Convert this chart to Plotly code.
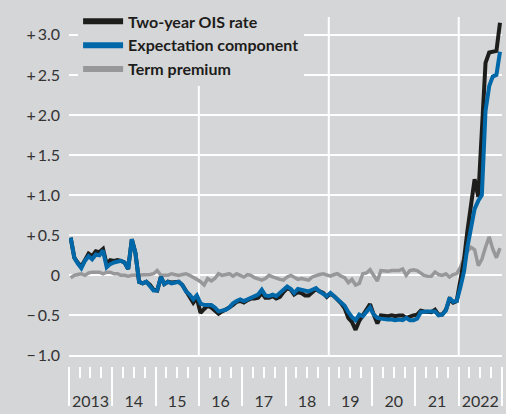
import plotly.graph_objects as go

# Monthly observations, Jan 2013 .. Dec 2022 (mid-month)
months = [f"{2013 + i // 12}-{i % 12 + 1:02d}-15" for i in range(120)]

ois_rate = [
    0.47, 0.22, 0.16, 0.11, 0.19, 0.27, 0.24, 0.30, 0.29, 0.33, 0.14, 0.19,
    0.18, 0.19, 0.18, 0.16, 0.08, 0.45, 0.28, -0.08, -0.10, -0.08, -0.12, -0.18,
    -0.19, -0.02, -0.11, -0.08, -0.09, -0.09, -0.08, -0.12, -0.19, -0.25, -0.34, -0.28,
    -0.47, -0.42, -0.38, -0.40, -0.44, -0.48, -0.45, -0.43, -0.40, -0.37, -0.33, -0.32,
    -0.34, -0.31, -0.29, -0.29, -0.28, -0.22, -0.28, -0.28, -0.26, -0.29, -0.27, -0.21,
    -0.16, -0.18, -0.24, -0.21, -0.22, -0.25, -0.25, -0.21, -0.17, -0.20, -0.22, -0.27,
    -0.23, -0.26, -0.30, -0.35, -0.41, -0.53, -0.58, -0.68, -0.57, -0.50, -0.43, -0.36,
    -0.49, -0.60, -0.50, -0.51, -0.51, -0.50, -0.51, -0.50, -0.50, -0.53, -0.51, -0.50,
    -0.49, -0.44, -0.45, -0.46, -0.46, -0.43, -0.49, -0.49, -0.43, -0.30, -0.34, -0.32,
    -0.08, 0.20, 0.55, 0.84, 1.20, 0.98, 1.75, 2.65, 2.78, 2.79, 2.80, 3.15,
]

expectation = [
    0.47, 0.22, 0.15, 0.09, 0.18, 0.24, 0.20, 0.26, 0.25, 0.31, 0.10, 0.14,
    0.16, 0.17, 0.18, 0.16, 0.08, 0.45, 0.28, -0.08, -0.10, -0.08, -0.13, -0.19,
    -0.19, -0.02, -0.11, -0.08, -0.10, -0.09, -0.08, -0.12, -0.20, -0.24, -0.30, -0.25,
    -0.35, -0.37, -0.37, -0.37, -0.40, -0.45, -0.44, -0.43, -0.40, -0.35, -0.32, -0.30,
    -0.32, -0.30, -0.27, -0.26, -0.24, -0.18, -0.25, -0.26, -0.24, -0.26, -0.22, -0.18,
    -0.14, -0.17, -0.22, -0.17, -0.18, -0.20, -0.20, -0.18, -0.16, -0.20, -0.23, -0.26,
    -0.22, -0.26, -0.31, -0.34, -0.38, -0.46, -0.52, -0.56, -0.49, -0.51, -0.45, -0.40,
    -0.49, -0.53, -0.54, -0.55, -0.55, -0.55, -0.56, -0.55, -0.56, -0.53, -0.56, -0.56,
    -0.54, -0.46, -0.45, -0.45, -0.45, -0.45, -0.50, -0.49, -0.44, -0.28, -0.33, -0.32,
    -0.15, 0.05, 0.35, 0.59, 0.83, 0.93, 1.00, 2.05, 2.36, 2.48, 2.50, 2.79,
]

term_premium = [
    -0.03, 0.00, 0.01, 0.02, 0.00, 0.03, 0.04, 0.04, 0.04, 0.02, 0.04, 0.04,
    0.02, 0.02, 0.00, 0.00, -0.01, 0.00, 0.00, 0.00, 0.00, 0.00, 0.01, 0.02,
    0.06, 0.00, 0.00, 0.00, 0.02, 0.01, 0.00, 0.01, 0.02, 0.00, -0.02, -0.05,
    -0.08, -0.12, -0.04, -0.07, -0.04, 0.02, 0.00, 0.01, 0.02, -0.01, 0.02, 0.00,
    -0.02, 0.01, 0.00, -0.03, -0.05, -0.06, -0.04, 0.00, -0.02, -0.04, -0.05, -0.06,
    -0.02, 0.00, -0.03, -0.05, -0.04, -0.05, -0.06, -0.02, 0.00, 0.01, 0.02, 0.00,
    -0.01, 0.01, 0.02, -0.01, -0.03, -0.09, -0.05, -0.12, -0.10, 0.02, 0.03, 0.07,
    -0.01, -0.07, 0.06, 0.05, 0.05, 0.06, 0.06, 0.06, 0.08, 0.00, 0.06, 0.07,
    0.06, 0.03, 0.00, -0.01, -0.01, 0.04, 0.01, 0.00, 0.02, -0.02, 0.01, 0.02,
    0.10, 0.22, 0.30, 0.35, 0.32, 0.12, 0.20, 0.35, 0.48, 0.33, 0.22, 0.34,
]

year_starts = [f"{y}-01-01" for y in range(2013, 2024)]
quarter_starts = [f"{y}-{m:02d}-01" for y in range(2013, 2023) for m in (4, 7, 10)]
year_mids = [f"{y}-07-02" for y in range(2013, 2023)]
year_labels = ["2013", "14", "15", "16", "17", "18", "19", "20", "21", "2022"]

y_ticks = [-1.0, -0.5, 0, 0.5, 1.0, 1.5, 2.0, 2.5, 3.0]
y_labels = ["\u2212\u20091.0", "\u2212\u20090.5", "0", "+\u20090.5", "+\u20091.0",
            "+\u20091.5", "+\u20092.0", "+\u20092.5", "+\u20093.0"]
grid_years = ["2016-01-01", "2019-01-01", "2022-01-01"]

BG = "#d5d6d8"
BLACK = "#1d1d1b"
BLUE = "#0068a8"
GREY = "#98989a"
FONT = "Lato"

fig = go.Figure()
fig.add_trace(go.Scatter(x=months, y=term_premium, mode="lines",
                         line=dict(color=GREY, width=3.5), showlegend=False, hoverinfo="skip"))
fig.add_trace(go.Scatter(x=months, y=ois_rate, mode="lines",
                         line=dict(color=BLACK, width=4), showlegend=False, hoverinfo="skip"))
fig.add_trace(go.Scatter(x=months, y=expectation, mode="lines",
                         line=dict(color=BLUE, width=4), showlegend=False, hoverinfo="skip"))

# legend entries
for name, col in [("Two-year OIS rate", BLACK), ("Expectation component", BLUE), ("Term premium", GREY)]:
    fig.add_trace(go.Scatter(x=[None], y=[None], mode="lines", name=name,
                             line=dict(color=col, width=6)))

# overlay axis carrying the year labels
fig.add_trace(go.Scatter(x=[months[0]], y=[None], xaxis="x2", mode="lines",
                         showlegend=False, hoverinfo="skip"))

top_val = 3.223
for gy in grid_years:
    fig.add_shape(type="line", xref="x", yref="y", x0=gy, x1=gy, y0=-1.0, y1=top_val,
                  line=dict(color="white", width=2), layer="below")

fig.update_layout(
    width=506, height=414,
    margin=dict(l=69, r=4, t=11, b=46),
    paper_bgcolor=BG, plot_bgcolor=BG,
    font=dict(family=FONT, size=16, color="#333333"),
    showlegend=True,
    legend=dict(x=0.021, y=1.036, xanchor="left", yanchor="top",
                bgcolor=BG, borderwidth=0, traceorder="normal",
                font=dict(family=FONT, size=16, color="#1d1d1b", weight="bold"),
                tracegroupgap=0, itemwidth=40),
    xaxis=dict(type="date", range=["2013-01-01", "2023-01-01"],
               showgrid=False, zeroline=False, showline=False,
               tickmode="array", tickvals=year_starts, ticks="outside",
               ticklen=39, tickwidth=2, tickcolor="white", showticklabels=False,
               minor=dict(tickmode="array", tickvals=quarter_starts, ticks="outside",
                          ticklen=11, tickwidth=2, tickcolor="white", showgrid=False)),
    xaxis2=dict(type="date", range=["2013-01-01", "2023-01-01"], overlaying="x",
                anchor="y", side="bottom", showgrid=False, zeroline=False, showline=False,
                tickmode="array", tickvals=year_mids, ticktext=year_labels,
                ticks="", ticklabelstandoff=24,
                tickfont=dict(family=FONT, size=16, color="#333333")),
    yaxis=dict(range=[-1.131, top_val], tickmode="array", tickvals=y_ticks,
               ticktext=y_labels, showgrid=True, gridcolor="white", gridwidth=2,
               zeroline=False, showline=False, ticks="", ticklabelstandoff=8,
               tickfont=dict(family=FONT, size=16, color="#333333")),
)

fig.write_html("out.html",
               config={"displayModeBar": False},
               post_script="document.body.style.margin='0';document.body.style.overflow='hidden';")
